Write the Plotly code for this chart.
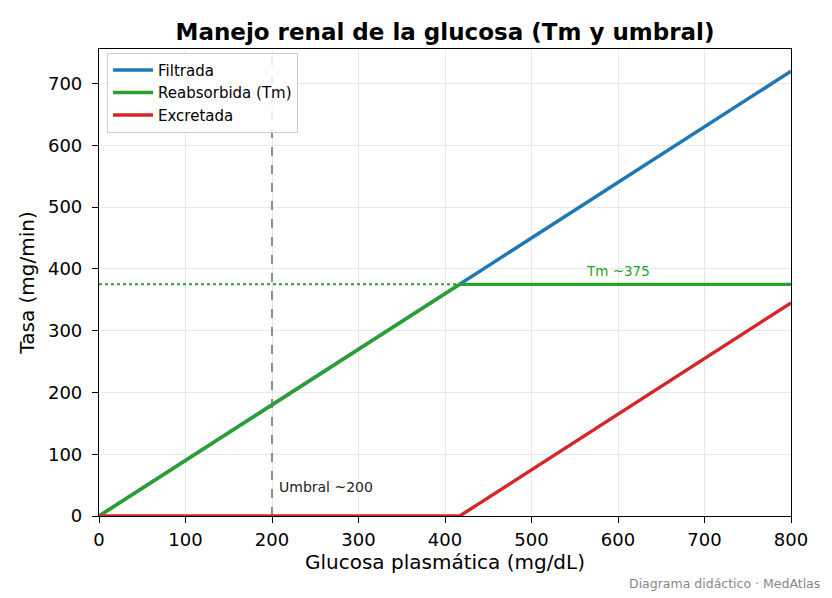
import plotly.graph_objects as go

# values
glucosa = [0, 417, 800]
filtrada = [0, 375, 720]
reabsorbida = [0, 375, 375]
excretada = [0, 0, 345]
tm = 375
umbral = 200

fig = go.Figure()

# reference lines (threshold and Tm)
fig.add_trace(go.Scatter(x=[umbral, umbral], y=[0, 756], mode="lines",
                         line=dict(color="#8c8c8c", width=2, dash="dash"),
                         showlegend=False, hoverinfo="skip"))
fig.add_trace(go.Scatter(x=[0, glucosa[1]], y=[tm, tm], mode="lines",
                         line=dict(color="#2ca02c", width=2, dash="dot"),
                         showlegend=False, hoverinfo="skip"))

fig.add_trace(go.Scatter(x=glucosa, y=filtrada, mode="lines", name="Filtrada",
                         line=dict(color="#1f77b4", width=3.4)))
fig.add_trace(go.Scatter(x=glucosa, y=reabsorbida, mode="lines", name="Reabsorbida (Tm)",
                         line=dict(color="#2ca02c", width=3.4)))
fig.add_trace(go.Scatter(x=glucosa, y=excretada, mode="lines", name="Excretada",
                         line=dict(color="#d62728", width=3.4)))

fig.add_annotation(x=600, y=tm, yshift=13, text="Tm ~375", showarrow=False,
                   font=dict(size=13.5, color="#2ca02c"))
fig.add_annotation(x=umbral, y=47, xshift=5, text="Umbral ~200", showarrow=False,
                   xanchor="left", font=dict(size=14, color="#222"))
fig.add_annotation(xref="paper", yref="paper", x=1.0448, y=-0.1456, text="Diagrama didáctico · MedAtlas",
                   showarrow=False, xanchor="right", yanchor="middle",
                   font=dict(size=12.5, color="#888"))

axis_style = dict(showline=True, linecolor="black", linewidth=1.2, mirror=True,
                  ticks="outside", ticklen=6, tickcolor="black",
                  showgrid=True, gridcolor="#e8e8e8", zeroline=False,
                  tickfont=dict(size=18, color="black"))

# page adds an 8px body margin, so the figure is a bit smaller than the window
fig.update_layout(
    width=824, height=590,
    margin=dict(l=91, r=41, t=41, b=82),
    font=dict(family="DejaVu Sans", color="black"),
    title=dict(text="<b>Manejo renal de la glucosa (Tm y umbral)</b>", xref="paper", x=0.5,
               xanchor="center", y=0.959, yanchor="middle", font=dict(size=23)),
    xaxis=dict(range=[0, 800], dtick=100, ticklabelstandoff=1,
               title=dict(text="Glucosa plasmática (mg/dL)", font=dict(size=20), standoff=5),
               **axis_style),
    yaxis=dict(range=[0, 756], dtick=100, ticklabelstandoff=6,
               title=dict(text="Tasa (mg/min)", font=dict(size=20), standoff=7),
               **axis_style),
    legend=dict(x=0.0116, y=0.992, xanchor="left", yanchor="top",
                bgcolor="rgba(255,255,255,0.85)", bordercolor="#cccccc", borderwidth=1,
                font=dict(size=15), tracegroupgap=0, itemwidth=40),
    plot_bgcolor="white",
    paper_bgcolor="white",
)

fig.write_html("out.html")
